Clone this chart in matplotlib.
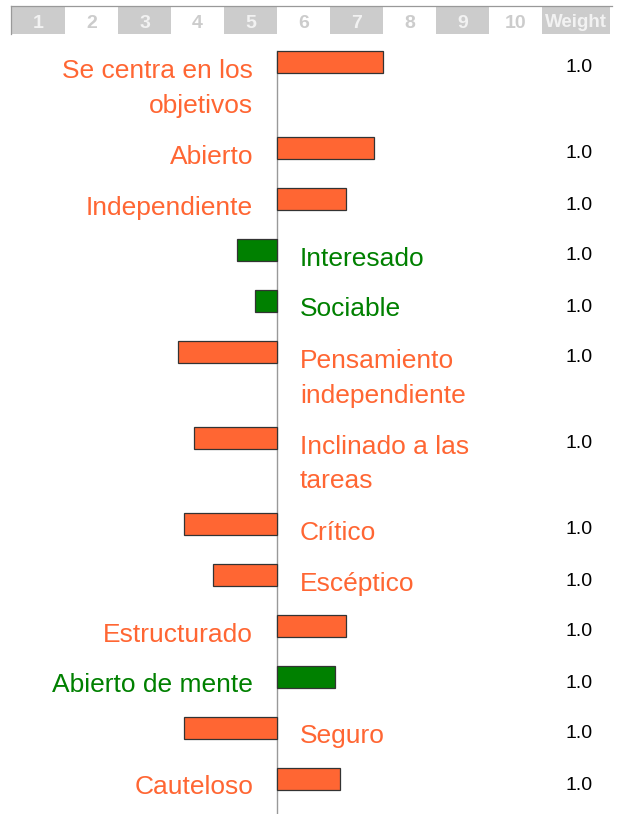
import matplotlib
matplotlib.use("Agg")
import matplotlib.pyplot as plt
from matplotlib.patches import Rectangle

plt.rcParams['font.family'] = ['Liberation Sans', 'DejaVu Sans']

# ---- data ----
labels = [
    ["Se centra en los", "objetivos"],
    ["Abierto"],
    ["Independiente"],
    ["Interesado"],
    ["Sociable"],
    ["Pensamiento", "independiente"],
    ["Inclinado a las", "tareas"],
    ["Crítico"],
    ["Escéptico"],
    ["Estructurado"],
    ["Abierto de mente"],
    ["Seguro"],
    ["Cauteloso"],
]
# deviation from the scale midpoint (5)
values = [2.0, 1.83, 1.3, -0.76, -0.41, -1.86, -1.57, -1.75, -1.21, 1.3, 1.09, -1.75, 1.19]
groups = ["o", "o", "o", "g", "g", "o", "o", "o", "o", "o", "g", "o", "o"]
weights = [1.0] * 13
header_labels = ["1", "2", "3", "4", "5", "6", "7", "8", "9", "10"]
weight_title = "Weight"
midpoint = 5

ORANGE = "#FF6633"
GREEN = "#008000"
colors = {"o": ORANGE, "g": GREEN}

W, H = 625, 814
fig = plt.figure(figsize=(W / 100, H / 100), dpi=100)
ax = fig.add_axes([0, 0, 1, 1])
# x in scale units (column width 53px, column 1 starts at 12px); y in pixel rows
x0px, colpx = 12, 53
ax.set_xlim(-x0px / colpx, (W - x0px) / colpx)
ax.set_ylim(H, 0)
ax.axis("off")

# ---- header ----
hy0, hy1 = 6, 34
for i, lab in enumerate(header_labels):
    shaded = (i % 2 == 0)
    ax.add_patch(Rectangle((i, hy0), 1, hy1 - hy0, facecolor="#cccccc" if shaded else "white",
                           edgecolor="none", zorder=1))
    ax.text(i + 0.5, 27.5, lab, ha="center", va="baseline", fontsize=14, fontweight="bold",
            color="#f2f2f2" if shaded else "#cccccc", zorder=2)
wx1 = (610 - x0px) / colpx
ax.add_patch(Rectangle((10, hy0), wx1 - 10, hy1 - hy0, facecolor="#cccccc", edgecolor="none", zorder=1))
ax.text((10 + wx1) / 2, 27, weight_title, ha="center", va="baseline", fontsize=13.5,
        fontweight="bold", color="#f2f2f2", zorder=2)
ax.plot([-1 / colpx, (612 - x0px) / colpx], [5.5, 5.5], color="#999999", lw=0.9, zorder=3)
ax.plot([-1 / colpx, -1 / colpx], [5.5, hy1], color="#999999", lw=0.9, zorder=3)

# ---- rows ----
y = 62
centers = []
for lab in labels:
    centers.append(y)
    y += 51 + 35 * (len(lab) - 1)

ax.plot([midpoint, midpoint], [centers[0] - 11, H], color="#999999", lw=1.0, zorder=2)

bar_colors = [colors[g] for g in groups]
ax.barh(centers, values, left=midpoint, height=22, color=bar_colors,
        edgecolor="#333333", linewidth=0.9, zorder=3)

left_x = (253 - x0px) / colpx
right_x = (300 - x0px) / colpx
wx = (579 - x0px) / colpx
for lab, v, g, c, wgt in zip(labels, values, groups, centers, weights):
    if v >= 0:
        tx, ha = left_x, "right"
    else:
        tx, ha = right_x, "left"
    for k, line in enumerate(lab):
        ax.text(tx, c + 15.5 + 35 * k, line, ha=ha, va="baseline", fontsize=19,
                color=colors[g], zorder=4)
    ax.text(wx, c + 10.5, f"{wgt:.1f}", ha="center", va="baseline", fontsize=14,
            color="black", zorder=4)

fig.savefig("out.png", dpi=100)
